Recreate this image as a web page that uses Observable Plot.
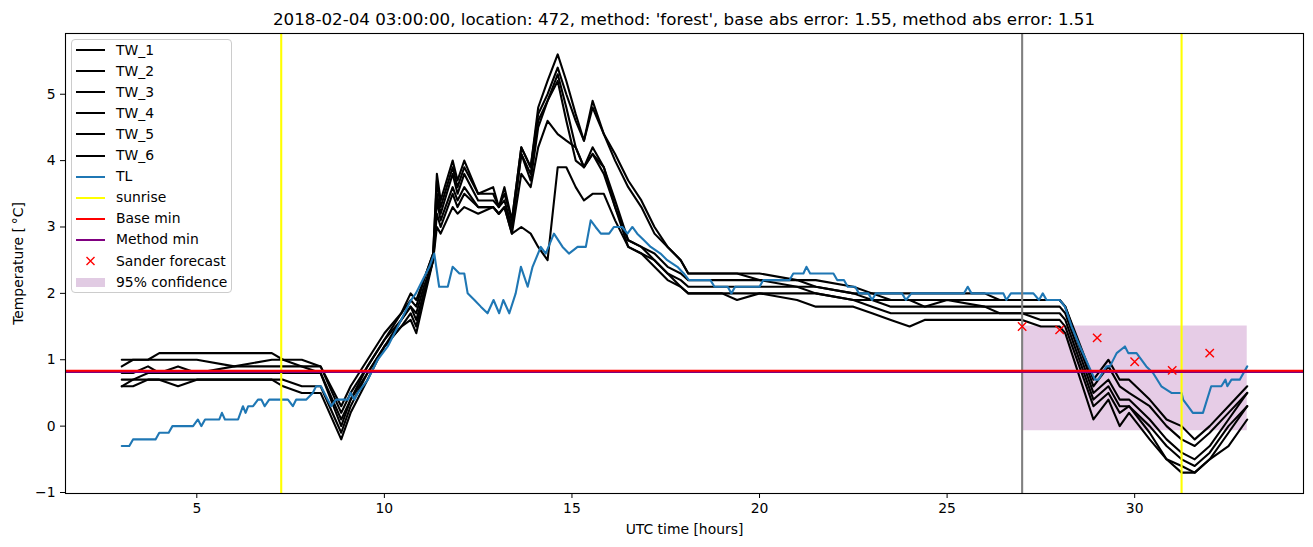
<!DOCTYPE html>
<html><head><meta charset="utf-8">
<script src="https://cdn.jsdelivr.net/npm/d3@7"></script>
<script src="https://cdn.jsdelivr.net/npm/@observablehq/plot@0.6"></script>
<style>
body{margin:0;background:#fff;font-family:"DejaVu Sans",sans-serif;}
#wrap{position:relative;width:1313px;height:547px;overflow:hidden;}
#title{position:absolute;left:65px;top:0;width:1238px;height:32px;box-sizing:border-box;text-align:center;font-size:16.7px;line-height:20px;padding-top:9px;color:#000;white-space:nowrap;}
#chart{position:absolute;left:0;top:32px;}
#legend{position:absolute;left:71px;top:39px;width:159px;height:252px;border:1px solid #cccccc;border-radius:4px;background:rgba(255,255,255,0.8);}
.row{position:absolute;left:0;height:21px;width:159px;font-size:13.9px;color:#000;}
.row .h{position:absolute;left:4px;width:29px;top:50%;}
.row .t{position:absolute;left:44px;top:0;line-height:21px;white-space:nowrap;}
</style></head>
<body>
<div id="wrap">
  <div id="title"></div>
  <div id="chart"></div>
  <div id="legend"></div>
</div>
<script>
// ---- data ----
const titleText = "2018-02-04 03:00:00, location: 472, method: 'forest', base abs error: 1.55, method abs error: 1.51";
const xLabel = "UTC time [hours]";
const yLabel = "Temperature [\u2009\u00B0C]";

const twTimes = [3.0,3.3,3.7,4.0,4.5,5.0,6.0,7.0,7.3,7.8,8.3,8.85,9.1,9.55,10.0,10.45,10.7,10.85,11.05,11.3,11.4,11.5,11.82,11.95,12.13,12.5,12.9,13.05,13.2,13.4,13.65,13.9,14.1,14.35,14.62,14.85,15.1,15.32,15.55,15.85,16.15,16.5,16.85,17.2,17.55,17.9,18.1,19.0,19.4,20.0,21.0,21.5,22.5,23.0,23.5,24.0,24.4,25.0,26.0,26.4,27.0,27.5,28.0,28.15,28.9,29.3,29.6,29.85,30.4,30.85,31.25,31.6,32.0,32.5,33.0];
const tw1 = [1.0,1.0,1.0,1.1,1.1,1.1,1.1,1.1,1.0,1.0,0.9,0.3,0.6,1.0,1.4,1.7,2.0,1.9,2.2,2.6,3.8,3.4,4.0,3.7,4.0,3.5,3.6,3.3,3.6,3.1,4.2,3.9,4.8,5.2,5.6,5.2,4.7,4.3,4.9,4.4,4.1,3.7,3.4,3.0,2.7,2.5,2.3,2.3,2.3,2.3,2.2,2.2,2.1,2.0,2.0,2.0,2.0,2.0,2.0,1.9,1.9,1.9,1.9,1.8,0.7,1.0,0.7,0.7,0.4,0.1,0.0,-0.2,0.0,0.3,0.6];
const tw2 = [0.9,1.0,1.0,1.0,1.0,1.0,0.9,1.0,1.0,0.9,0.9,0.2,0.5,0.9,1.3,1.7,1.9,1.8,2.2,2.6,3.7,3.3,3.9,3.6,3.9,3.5,3.5,3.3,3.5,3.1,4.2,3.9,4.7,5.0,5.4,5.0,4.6,4.3,4.8,4.4,4.0,3.6,3.3,2.9,2.7,2.5,2.3,2.3,2.3,2.2,2.2,2.1,2.0,2.0,1.9,1.9,1.9,1.9,1.9,1.9,1.9,1.9,1.9,1.8,0.6,0.9,0.6,0.5,0.3,0.0,-0.2,-0.3,-0.1,0.2,0.5];
const tw3 = [0.8,0.8,0.9,0.8,0.9,0.8,0.9,0.9,0.9,0.9,0.8,0.1,0.4,0.9,1.3,1.6,1.8,1.7,2.1,2.5,3.5,3.2,3.8,3.5,3.8,3.4,3.4,3.3,3.4,3.0,4.1,3.8,4.6,4.9,5.3,4.8,4.2,3.9,4.2,3.9,3.4,2.8,2.7,2.6,2.4,2.3,2.2,2.2,2.2,2.2,2.1,2.1,2.0,1.9,1.9,1.9,1.8,1.9,1.8,1.8,1.8,1.8,1.8,1.7,0.5,0.7,0.4,0.4,0.1,-0.2,-0.4,-0.5,-0.3,0.1,0.5];
const tw4 = [0.7,0.7,0.8,0.8,0.8,0.8,0.8,0.8,0.8,0.8,0.8,0.0,0.4,0.8,1.2,1.6,1.8,1.6,2.0,2.5,3.4,3.1,3.6,3.4,3.6,3.3,3.3,3.2,3.3,3.0,4.1,3.7,4.5,4.9,5.2,4.6,4.0,3.9,4.1,3.9,3.3,2.8,2.7,2.5,2.3,2.2,2.1,2.1,2.1,2.1,2.1,2.0,1.9,1.9,1.8,1.8,1.8,1.8,1.8,1.7,1.7,1.7,1.7,1.6,0.4,0.6,0.3,0.3,0.0,-0.3,-0.5,-0.6,-0.4,0.0,0.3];
const tw5 = [0.6,0.7,0.7,0.7,0.7,0.7,0.7,0.7,0.7,0.6,0.6,-0.1,0.3,0.8,1.2,1.5,1.7,1.5,2.0,2.5,3.2,3.0,3.5,3.3,3.5,3.3,3.3,3.2,3.3,2.9,3.8,3.6,4.2,4.6,4.4,4.3,4.2,3.9,4.1,3.8,3.3,2.7,2.6,2.5,2.3,2.1,2.0,2.0,2.0,2.0,2.0,2.0,1.9,1.8,1.7,1.7,1.7,1.7,1.7,1.7,1.7,1.6,1.6,1.5,0.3,0.5,0.2,0.3,-0.1,-0.5,-0.6,-0.7,-0.5,-0.1,0.3];
const tw6 = [0.6,0.6,0.7,0.7,0.6,0.7,0.7,0.7,0.6,0.5,0.5,-0.2,0.2,0.7,1.2,1.5,1.6,1.4,1.9,2.5,3.0,2.9,3.3,3.2,3.3,3.2,3.3,3.2,3.3,2.9,3.0,2.9,2.7,2.5,3.9,3.9,3.6,3.4,3.5,3.5,3.1,2.7,2.6,2.4,2.2,2.1,2.0,2.0,1.9,2.0,1.9,1.8,1.8,1.7,1.6,1.5,1.6,1.6,1.6,1.6,1.6,1.5,1.5,1.4,0.1,0.4,0.0,0.2,-0.2,-0.5,-0.7,-0.7,-0.5,-0.3,0.1];

const tlTimes = [3.0,3.2,3.3,3.9,4.0,4.25,4.35,4.9,5.03,5.12,5.22,5.6,5.67,5.75,6.1,6.23,6.3,6.37,6.5,6.63,6.72,6.81,6.93,7.43,7.56,7.65,7.92,8.09,8.18,8.31,8.58,8.71,9.03,9.1,9.2,9.29,9.56,9.82,10.09,10.36,10.71,10.84,11.02,11.2,11.33,11.46,11.69,11.82,12.0,12.13,12.22,12.4,12.57,12.75,12.91,13.06,13.17,13.33,13.5,13.64,13.82,13.95,14.17,14.3,14.52,14.75,14.92,15.15,15.37,15.5,15.63,15.77,15.99,16.12,16.34,16.48,16.61,16.74,16.92,17.1,17.36,17.54,17.81,17.98,18.12,18.69,18.8,19.15,19.25,19.35,20.0,20.1,20.8,20.9,21.17,21.25,21.35,21.97,22.07,22.25,22.35,22.55,22.65,22.9,23.0,23.1,23.8,23.9,24.05,25.45,25.55,25.65,26.5,26.58,26.7,27.3,27.45,27.55,27.65,28.0,28.14,28.32,28.54,28.94,29.03,29.25,29.34,29.52,29.74,29.83,30.05,30.31,30.49,30.71,30.98,31.25,31.29,31.42,31.55,31.82,32.04,32.31,32.42,32.47,32.58,32.8,33.0];
const tlValues = [-0.3,-0.3,-0.2,-0.2,-0.1,-0.1,0.0,0.0,0.1,0.0,0.1,0.1,0.2,0.1,0.1,0.3,0.2,0.3,0.3,0.4,0.4,0.3,0.4,0.4,0.3,0.4,0.4,0.5,0.6,0.6,0.3,0.4,0.4,0.5,0.4,0.5,0.7,1.0,1.2,1.5,1.9,2.0,2.2,2.4,2.6,2.1,2.1,2.4,2.3,2.3,2.0,1.9,1.8,1.7,1.9,1.7,1.9,1.7,2.0,2.4,2.1,2.4,2.7,2.6,2.9,2.7,2.6,2.7,2.7,3.1,3.0,2.9,2.9,3.0,3.0,2.9,3.0,2.9,2.8,2.7,2.6,2.5,2.4,2.3,2.2,2.2,2.1,2.1,2.0,2.1,2.1,2.2,2.2,2.3,2.3,2.4,2.3,2.3,2.2,2.2,2.1,2.1,2.0,2.0,1.9,2.0,2.0,1.9,2.0,2.0,2.1,2.0,2.0,1.9,2.0,2.0,1.9,2.0,1.9,1.9,1.8,1.5,1.2,0.7,0.7,0.9,0.9,1.1,1.2,1.1,1.1,0.9,0.8,0.6,0.5,0.5,0.4,0.3,0.2,0.2,0.6,0.6,0.7,0.6,0.7,0.7,0.9];

const sunriseTimes = [7.25, 31.25];
const forecastStart = [27];
const baseMin = [0.835];
const methodMin = [0.815];
const sanderTimes = [27, 28, 29, 30, 31, 32];
const sanderValues = [1.50, 1.45, 1.33, 0.97, 0.84, 1.10];
const bandTimes = [27, 33];
const bandLow = [-0.07, -0.07];
const bandHigh = [1.51, 1.51];
const xTicks = [5, 10, 15, 20, 25, 30];
const yTicks = [-1, 0, 1, 2, 3, 4, 5];

const legendLabels = ["TW_1","TW_2","TW_3","TW_4","TW_5","TW_6","TL","sunrise","Base min","Method min","Sander forecast","95% confidence"];
const legendColors = ["black","black","black","black","black","black","#1f77b4","yellow","red","purple","red","#e1cbe3"];
const legendKinds = ["line","line","line","line","line","line","line","line","line","line","marker","patch"];

// ---- build tables ----
const twSeries = [tw1, tw2, tw3, tw4, tw5, tw6];
const twData = twSeries.flatMap((vals, k) => vals.map((v, i) => ({t: twTimes[i], v, s: "TW_" + (k + 1)})));
const tlData = tlTimes.map((t, i) => ({t, v: tlValues[i]}));
const sanderData = sanderTimes.map((t, i) => ({t, v: sanderValues[i]}));
const bandData = bandTimes.map((t, i) => ({t, lo: bandLow[i], hi: bandHigh[i]}));

const intFmt = d => (d < 0 ? "\u2212" : "") + Math.abs(d);

document.getElementById("title").textContent = titleText;

const chart = Plot.plot({
  width: 1313,
  height: 514,
  marginLeft: 65,
  marginRight: 10,
  marginTop: 1,
  marginBottom: 53,
  style: {fontFamily: "DejaVu Sans", fontSize: "13.9px", background: "white", color: "black", overflow: "visible"},
  x: {domain: [1.5, 34.5]},
  y: {domain: [-1.015, 5.915]},
  marks: [
    Plot.areaY(bandData, {x: "t", y1: "lo", y2: "hi", fill: "purple", fillOpacity: 0.2}),
    Plot.line(twData, {x: "t", y: "v", z: "s", stroke: "black", strokeWidth: 2.1}),
    Plot.line(tlData, {x: "t", y: "v", stroke: "#1f77b4", strokeWidth: 2.1}),
    Plot.ruleX(sunriseTimes, {stroke: "yellow", strokeWidth: 2.1}),
    Plot.ruleX(forecastStart, {stroke: "gray", strokeWidth: 2.1}),
    Plot.ruleY(methodMin, {stroke: "purple", strokeWidth: 2.1}),
    Plot.ruleY(baseMin, {stroke: "red", strokeWidth: 2.1}),
    Plot.dot(sanderData, {x: "t", y: "v", symbol: "times", r: 3.9, stroke: "red", strokeWidth: 1.4}),
    Plot.axisX({ticks: xTicks, tickFormat: intFmt, tickSize: 5, tickPadding: 5, label: xLabel, labelAnchor: "center", labelArrow: "none", labelOffset: 40}),
    Plot.axisY({ticks: yTicks, tickFormat: intFmt, tickSize: 5, tickPadding: 5, label: yLabel, labelAnchor: "center", labelArrow: "none", labelOffset: 52}),
    Plot.frame({stroke: "black", strokeWidth: 1.1})
  ]
});
document.getElementById("chart").appendChild(chart);

// ---- legend ----
const leg = document.getElementById("legend");
legendLabels.forEach((lab, i) => {
  const row = document.createElement("div");
  row.className = "row";
  row.style.top = (50 + 21.1 * i - 40 - 10.5) + "px";
  const h = document.createElement("div");
  h.className = "h";
  const kind = legendKinds[i];
  if (kind === "line") {
    h.style.height = "2px"; h.style.marginTop = "-1px"; h.style.background = legendColors[i];
  } else if (kind === "patch") {
    h.style.height = "9px"; h.style.marginTop = "-4.5px"; h.style.background = legendColors[i];
  } else {
    h.style.height = "14px"; h.style.marginTop = "-7px";
    h.innerHTML = '<svg width="29" height="14"><path d="M10.5,3L18.5,11M18.5,3L10.5,11" stroke="' + legendColors[i] + '" stroke-width="1.4"/></svg>';
  }
  const t = document.createElement("div");
  t.className = "t";
  t.textContent = lab;
  row.appendChild(h); row.appendChild(t);
  leg.appendChild(row);
});
</script>
</body></html>
